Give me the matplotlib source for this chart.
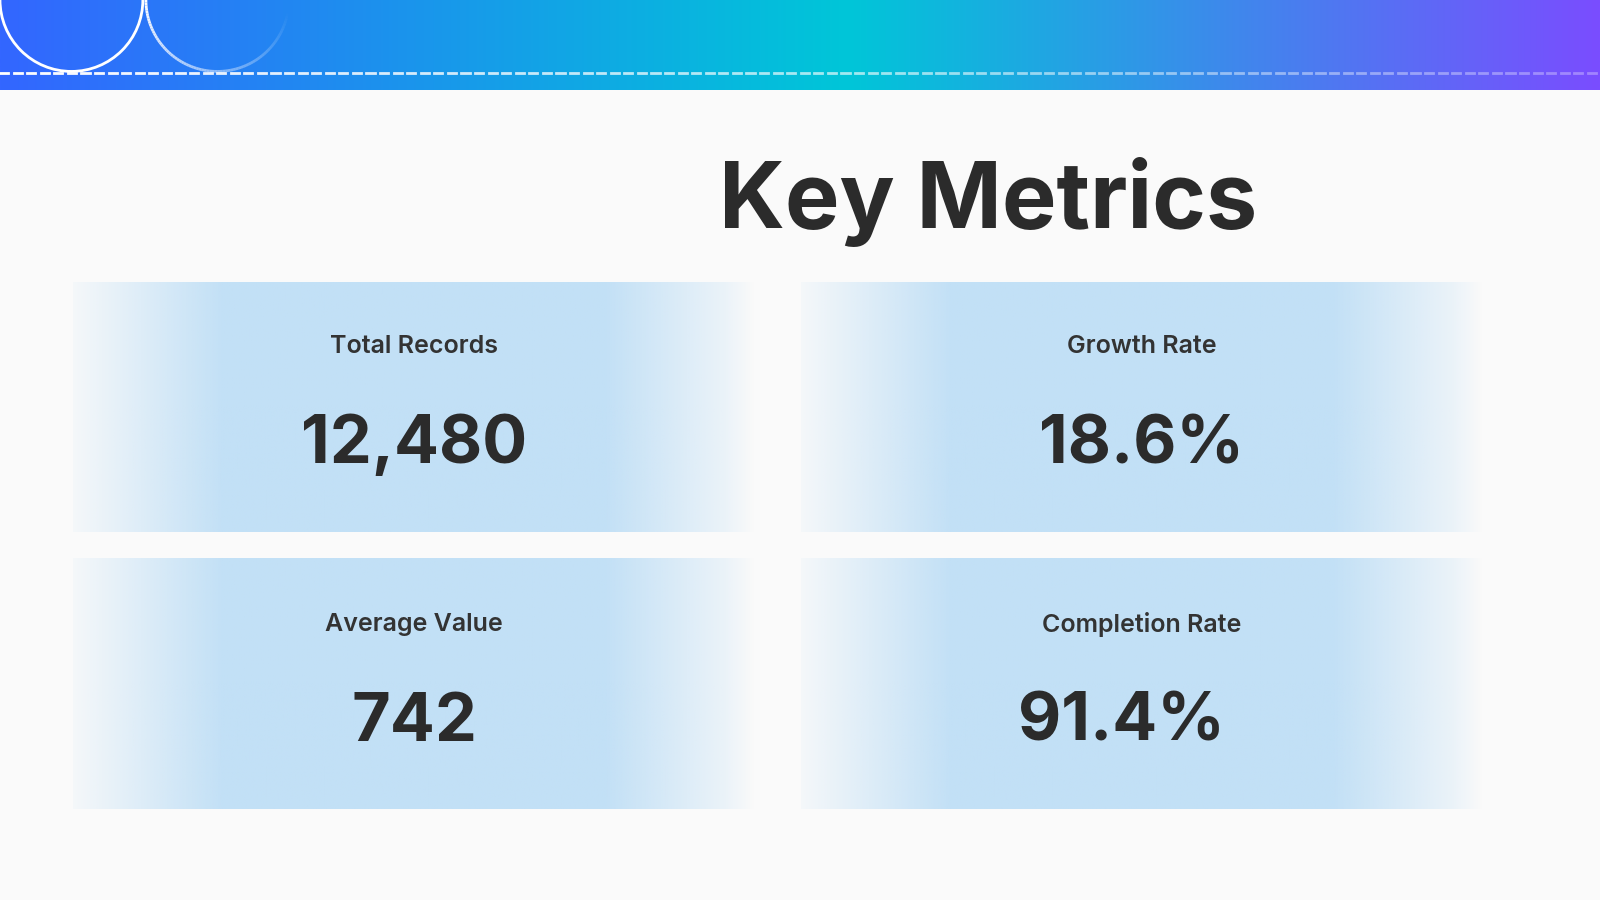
import numpy as np
import matplotlib.pyplot as plt
from matplotlib.patches import Arc
from matplotlib.colors import to_rgb

title = "Key Metrics"
labels = ["Total Records", "Growth Rate", "Average Value", "Completion Rate"]
values = ["12,480", "18.6%", "742", "91.4%"]

W, H = 1568, 882
fig = plt.figure(figsize=(16, 9), dpi=100)
fig.patch.set_facecolor("#fafafa")
ax = fig.add_axes([0, 0, 1, 1])
ax.set_xlim(0, W); ax.set_ylim(H, 0); ax.axis("off")
ax.set_facecolor("#fafafa")

# header gradient
x = np.linspace(0, 1, 600)
c1, c2, c3 = [np.array(to_rgb(c)) for c in ("#3366ff", "#00c6d8", "#7a4dff")]
cols = np.array([c1 + (c2 - c1) * (t / 0.53) if t < 0.53 else c2 + (c3 - c2) * ((t - 0.53) / 0.47) for t in x])
ax.imshow(cols[None, :, :], extent=[0, W, 88, 0], aspect="auto", zorder=1)
ax.add_patch(Arc((70, 0), 140, 140, theta1=0, theta2=180, color="white", lw=2, zorder=3))
for i, (t1, t2) in enumerate([(90, 140), (60, 90), (35, 60)]):
    ax.add_patch(Arc((213, 0), 140, 140, theta1=180 - t2 + 180 - 180, theta2=180 - t1 + 0, color="white", lw=2, alpha=0.0, zorder=3))
# second arc with fading alpha
th = np.linspace(np.pi, 2 * np.pi * 0.97, 80)
for k in range(len(th) - 1):
    a = 1 - k / (len(th) - 1)
    ax.plot(213 + 70 * np.cos(th[k:k + 2]), -70 * np.sin(th[k:k + 2]) * -1 * -1 * 1 * -1 if False else 0 - 70 * np.sin(th[k:k + 2]),
            color="white", lw=2, alpha=max(a, 0), zorder=3, solid_capstyle="butt")
# dashed line fading
xs = np.arange(0, W, 13.3)
for k, x0 in enumerate(xs):
    ax.plot([x0, x0 + 8], [72, 72], color="white", lw=2, alpha=1 - 0.7 * x0 / W, zorder=3)

# cards
cards = [(72, 740, 276, 521), (785, 1453, 276, 521), (72, 740, 548, 793), (785, 1453, 548, 793)]
base = np.array(to_rgb("#c2e0f6"))
t = np.linspace(0, 1, 400)
alpha = np.clip(np.minimum(t, 1 - t) / 0.22, 0, 1) * 0.9 + 0.1
alpha = np.clip(alpha, 0, 1)
alpha[-20:] = np.linspace(alpha[-21], 0.0, 20)
img = np.zeros((1, 400, 4)); img[..., :3] = base; img[..., 3] = alpha
offs = [0, 0, 0, -20]
for (x0, x1, y0, y1), lab, val, o in zip(cards, labels, values, offs):
    ax.imshow(img, extent=[x0, x1, y1, y0], aspect="auto", zorder=2)
    cx = (x0 + x1) / 2
    ax.text(cx, y0 + 64, lab, ha="center", va="center", fontsize=18, color="#333333",
            family="Inter", fontweight="semibold", zorder=4)
    ax.text(cx + o, y0 + 161, val, ha="center", va="center", fontsize=48, color="#2b2b2b",
            family="Inter", fontweight="bold", zorder=4)

ax.text(968, 198, title, ha="center", va="center", fontsize=66, color="#2b2b2b",
        family="Inter", fontweight="bold", zorder=4)
ax.set_xlim(0, W); ax.set_ylim(H, 0)
fig.savefig("out.png", facecolor=fig.get_facecolor())
